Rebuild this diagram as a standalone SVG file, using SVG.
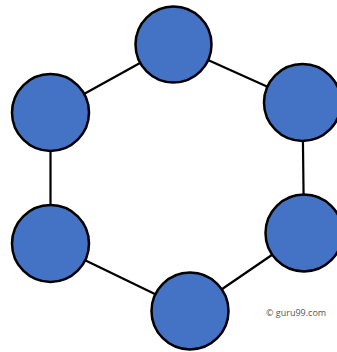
<svg xmlns="http://www.w3.org/2000/svg" width="337" height="352" viewBox="0 0 337 352">
<style>
.node{fill:#4472C4;stroke:#000;stroke-width:2.5}
.edge{stroke:#000;stroke-width:2.2}
.lbl{font-family:"Open Sans","Liberation Sans",sans-serif;font-size:9px;fill:#555}
</style>
<rect width="337" height="352" fill="#fff"/>
<g id="connectors">
<line class="edge" x1="173.5" y1="44.5" x2="302.5" y2="102.5"/>
<line class="edge" x1="302.5" y1="102.5" x2="304" y2="233"/>
<line class="edge" x1="304" y1="233" x2="190" y2="311"/>
<line class="edge" x1="190" y1="311" x2="50.5" y2="243.5"/>
<line class="edge" x1="50.5" y1="243.5" x2="50.5" y2="112.5"/>
<line class="edge" x1="50.5" y1="112.5" x2="173.5" y2="44.5"/>
</g>
<g id="n1"><circle class="node" cx="173.5" cy="44.5" r="38"/></g>
<g id="n2"><circle class="node" cx="302.5" cy="102.5" r="38.5"/></g>
<g id="n3"><circle class="node" cx="304" cy="233" r="38.5"/></g>
<g id="n4"><circle class="node" cx="190" cy="311" r="38.5"/></g>
<g id="n5"><circle class="node" cx="50.5" cy="243.5" r="38.5"/></g>
<g id="n6"><circle class="node" cx="50.5" cy="112.5" r="38.5"/></g>
<text class="lbl" x="266" y="316">© guru99.com</text>
</svg>
